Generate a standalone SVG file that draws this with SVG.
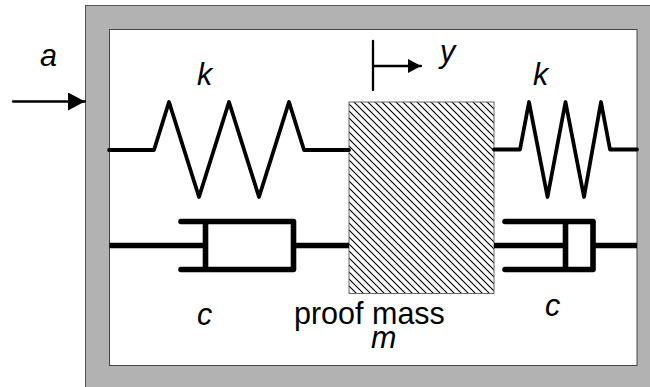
<svg xmlns="http://www.w3.org/2000/svg" width="650" height="387" viewBox="0 0 650 387">
<style>
.t{font-family:"Liberation Sans",Arial,sans-serif;font-size:30.5px;fill:#000}
.i{font-style:italic}
.spring{fill:none;stroke:#000;stroke-width:3.8;stroke-linejoin:round;stroke-linecap:round}
.damper{fill:none;stroke:#000;stroke-width:5.6;stroke-linejoin:round;stroke-linecap:round}
.rod{fill:none;stroke:#000;stroke-width:5.6}
.thin{fill:none;stroke:#000;stroke-width:2.3;stroke-linecap:round}
</style>
<defs>
<pattern id="hatch" width="7" height="7" patternUnits="userSpaceOnUse">
<path d="M-1,-1L8,8M-1,6L1,8M6,-1L8,1" stroke="#000" stroke-width="1.15" fill="none"/>
</pattern>
<marker id="ah" markerUnits="userSpaceOnUse" markerWidth="17" markerHeight="18" refX="17" refY="9" orient="auto"><path d="M0,0L17,9L0,18Z" fill="#000"/></marker>
<marker id="ah2" markerUnits="userSpaceOnUse" markerWidth="13" markerHeight="14" refX="13" refY="7" orient="auto"><path d="M0,0L13,7L0,14Z" fill="#000"/></marker>
</defs>
<g id="housing">
<rect x="85.500" y="5.500" width="570" height="390" fill="#b2b2b2" stroke="#555" stroke-width="1"/>
<rect x="109.500" y="29.500" width="527.500" height="336" fill="#fff" stroke="#444" stroke-width="1"/>
</g>
<g id="proof-mass">
<rect x="349" y="102" width="145" height="191.500" fill="#fff"/>
<rect x="349" y="102" width="145" height="191.500" fill="url(#hatch)" stroke="#666" stroke-width="1"/>
</g>
<g id="connectors">
<path class="spring" d="M109,150H154L169,102L199,197L229,102L259,197L289,102L304,150H349"/>
<path class="spring" d="M494,149.500H520L529,102L547.500,197L565.500,102L584,197L601,102L610,149.500H637"/>
<path class="rod" d="M109.500,245.500H205.500M293.500,245.500H349"/>
<path class="damper" d="M181,221.500H293.500V269.500H181M205.500,221.500V269.500"/>
<path class="rod" d="M494,245.500H565.500M593,245.500H637"/>
<path class="damper" d="M505,221.500H593V269.500H505M565.500,221.500V269.500"/>
<path class="thin" d="M13,101.500H85" marker-end="url(#ah)"/>
<path class="thin" d="M373,41V90M373,66H421" marker-end="url(#ah2)"/>
</g>
<g id="labels">
<text class="t i" x="40" y="66">a</text>
<text class="t i" x="197" y="85">k</text>
<text class="t i" x="533" y="85">k</text>
<text class="t i" x="440" y="62">y</text>
<text class="t i" x="197" y="325">c</text>
<text class="t i" x="545" y="316">c</text>
<text class="t" x="294" y="324">proof mass</text>
<text class="t i" x="371" y="348">m</text>
</g>
</svg>
